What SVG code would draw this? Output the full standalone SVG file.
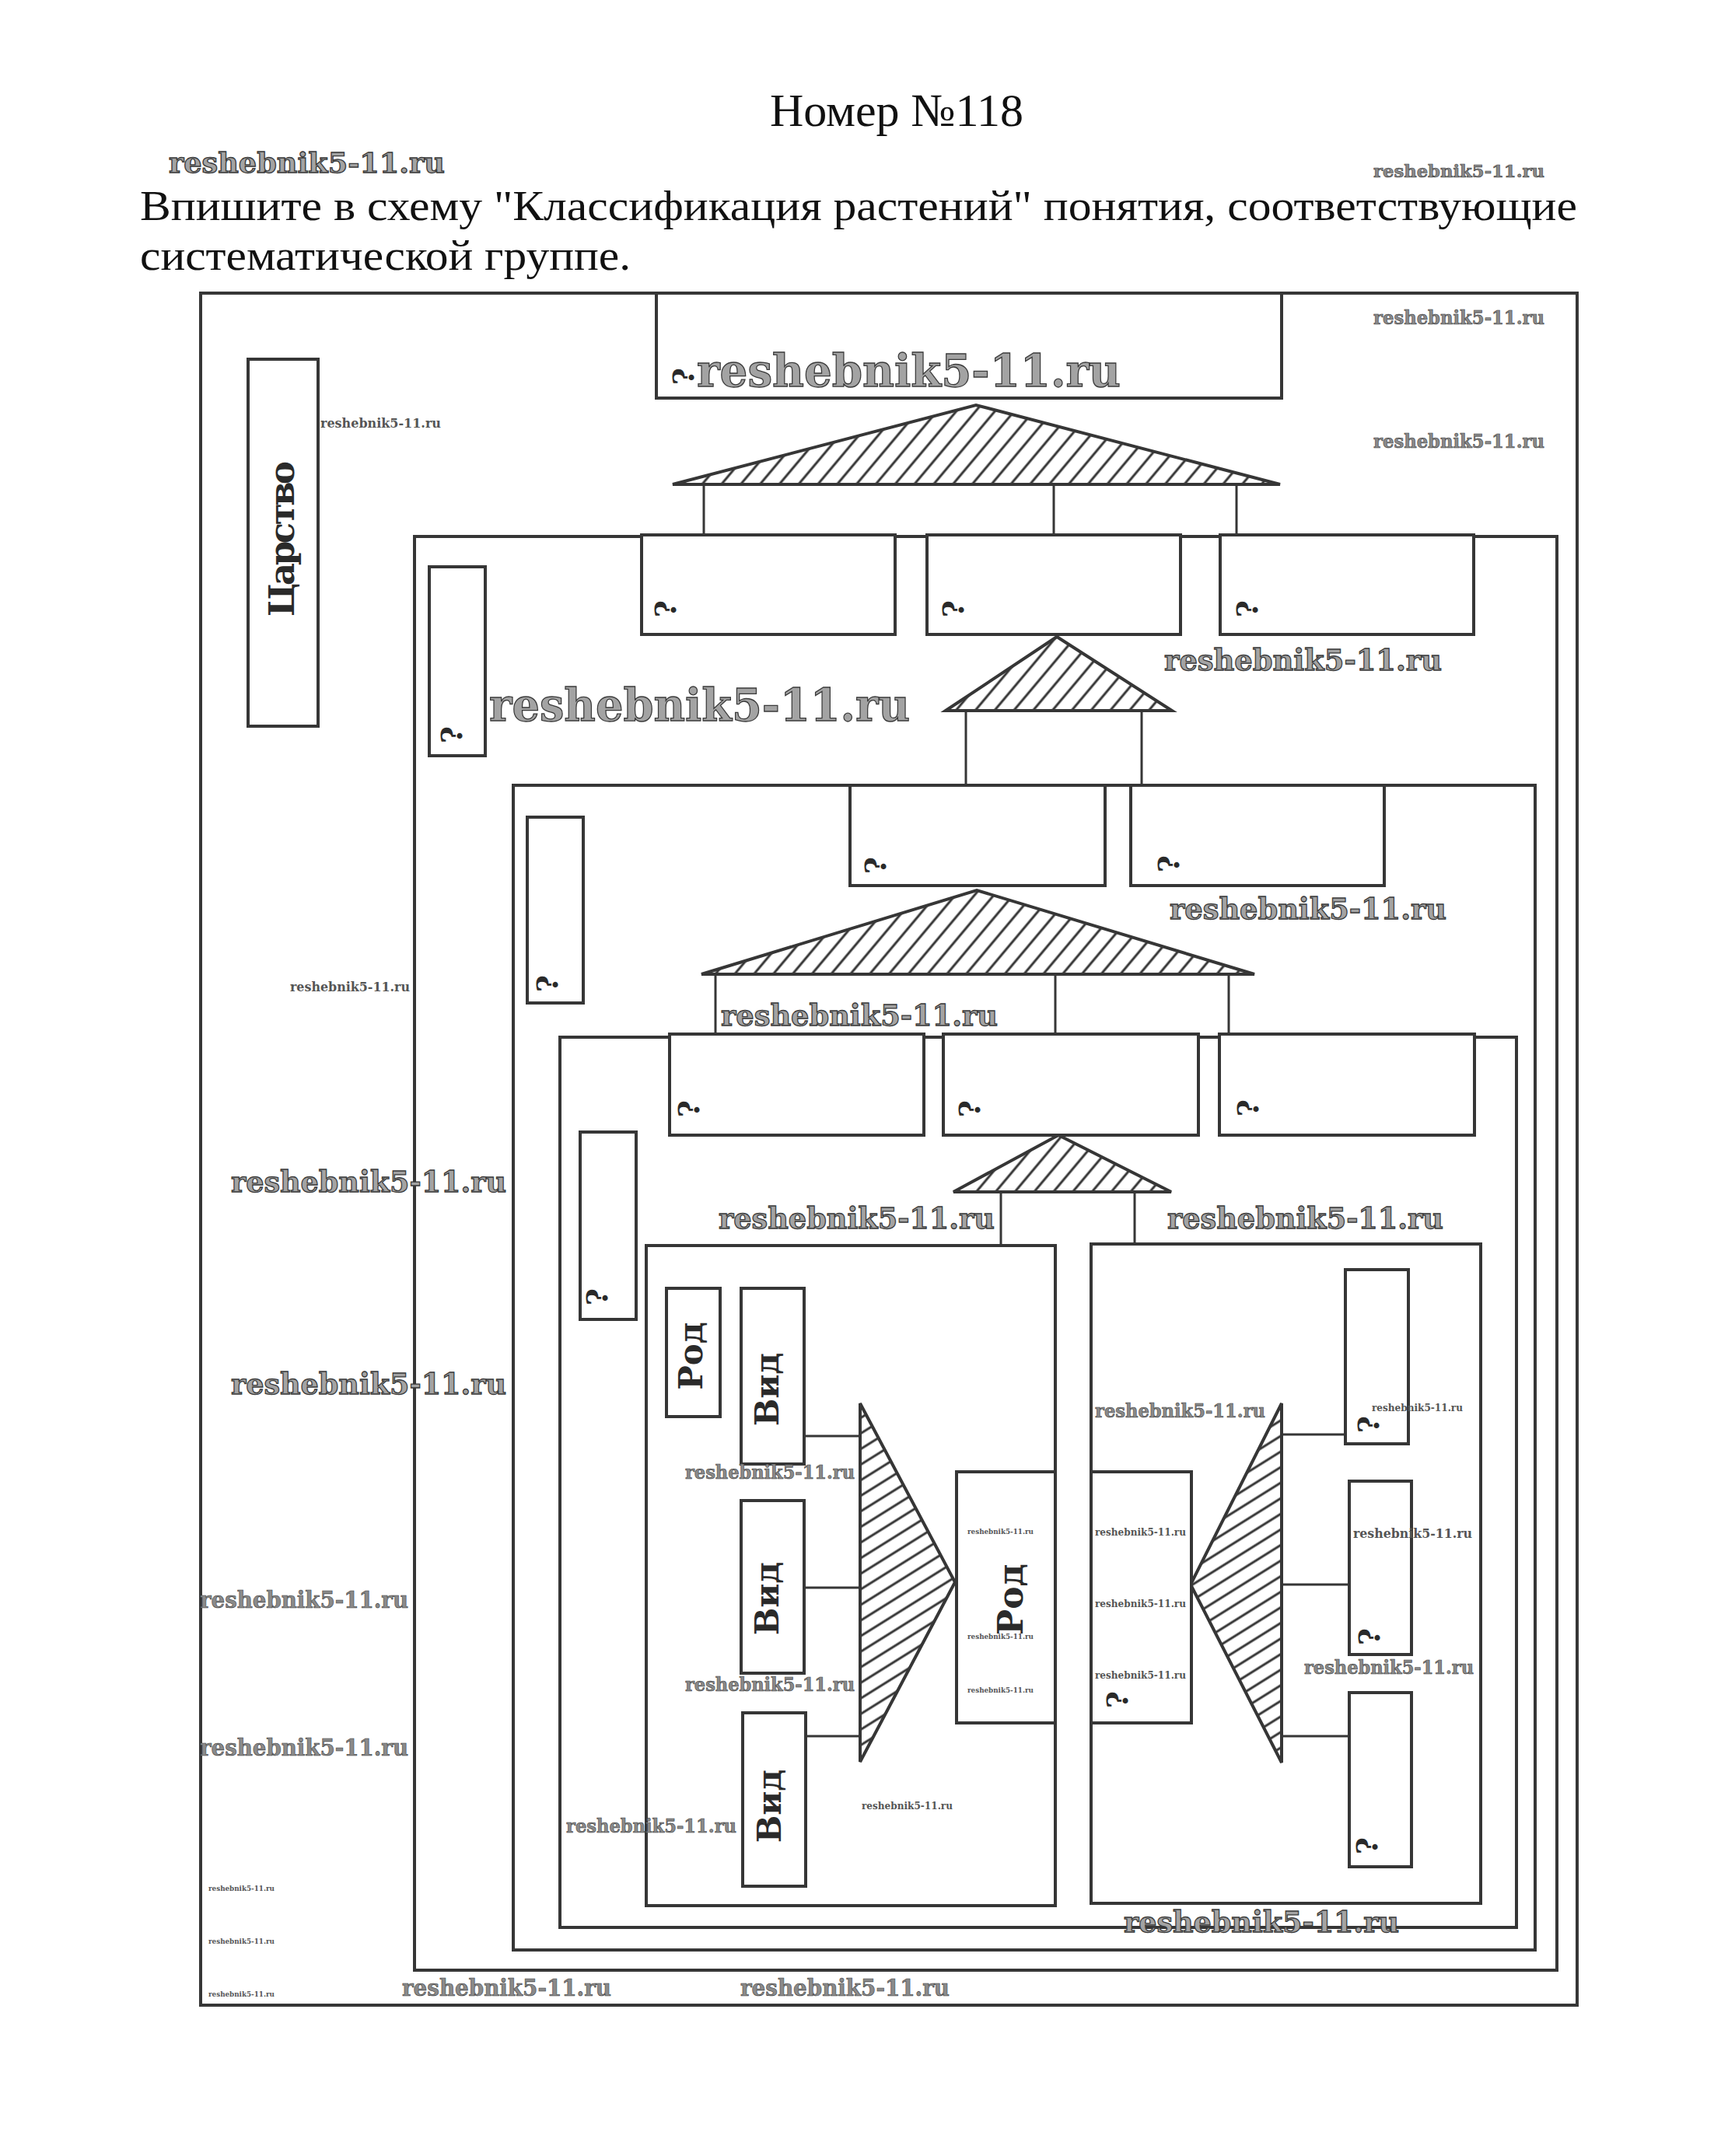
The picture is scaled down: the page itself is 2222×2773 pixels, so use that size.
<svg xmlns="http://www.w3.org/2000/svg" width="2222" height="2773" viewBox="0 0 2222 2773">
<defs>
<pattern id="hatchUp" patternUnits="userSpaceOnUse" width="19" height="19" patternTransform="rotate(40)"><line x1="9" y1="-2" x2="9" y2="21" stroke="#333" stroke-width="3"/></pattern>
<pattern id="hatchSide" patternUnits="userSpaceOnUse" width="17" height="17" patternTransform="rotate(58)"><line x1="8" y1="-2" x2="8" y2="19" stroke="#333" stroke-width="3"/></pattern>
<style>
.frame{fill:none;stroke:#363636;stroke-width:4}
.box{fill:#fff;stroke:#363636;stroke-width:4}
.con{stroke:#363636;stroke-width:3;fill:none}
.tri{stroke:#363636;stroke-width:4;stroke-linejoin:miter}
.up{fill:url(#hatchUp)}
.side{fill:url(#hatchSide)}
.lbl{font-family:"DejaVu Serif",serif;font-weight:bold;fill:#2a2a2a;text-anchor:middle;dominant-baseline:central}
.q{font-family:"DejaVu Serif",serif;font-weight:bold;font-size:38px;fill:#2a2a2a;text-anchor:middle;dominant-baseline:central}
.head{font-family:"Liberation Serif",serif;fill:#111}
.wmB{font-family:"DejaVu Serif",serif;font-weight:bold;fill:#a3a3a3;stroke:#3a3a3a;stroke-width:1.3}
.wmM{font-family:"DejaVu Serif",serif;font-weight:bold;fill:#8a8a8a;stroke:#3a3a3a;stroke-width:0.6}
.wmS{font-family:"DejaVu Serif",serif;font-weight:bold;fill:#555}
</style>
</defs>
<rect width="2222" height="2773" fill="#fff"/>

<g id="heading">
<text class="head" x="1153" y="162" font-size="60" text-anchor="middle" textLength="326">Номер №118</text>
<text class="head" x="180" y="283" font-size="55" textLength="1848" lengthAdjust="spacingAndGlyphs">Впишите в схему "Классификация растений" понятия, соответствующие</text>
<text class="head" x="180" y="347" font-size="55" textLength="631" lengthAdjust="spacingAndGlyphs">систематической группе.</text>
</g>

<g id="containers">
<rect id="frame-outer" class="frame" x="258" y="377" width="1770" height="2202"/>
<rect id="frame-b" class="frame" x="533" y="690" width="1469" height="1844"/>
<rect id="frame-c" class="frame" x="660" y="1010" width="1314" height="1498"/>
<rect id="frame-d" class="frame" x="720" y="1334" width="1230" height="1145"/>
<rect id="frame-e1" class="frame" x="831" y="1602" width="526" height="849"/>
<rect id="frame-e2" class="frame" x="1403" y="1600" width="501" height="848"/>
</g>

<g id="connectors">
<polygon class="tri up" points="865,623 1255,521 1646,623"/>
<line class="con" x1="905" y1="623" x2="905" y2="688"/>
<line class="con" x1="1355" y1="623" x2="1355" y2="688"/>
<line class="con" x1="1590" y1="623" x2="1590" y2="688"/>
<polygon class="tri up" points="1216,914 1359,819 1507,914"/>
<line class="con" x1="1242" y1="914" x2="1242" y2="1010"/>
<line class="con" x1="1468" y1="914" x2="1468" y2="1010"/>
<polygon class="tri up" points="902,1253 1256,1145 1613,1253"/>
<line class="con" x1="920" y1="1253" x2="920" y2="1330"/>
<line class="con" x1="1357" y1="1253" x2="1357" y2="1330"/>
<line class="con" x1="1580" y1="1253" x2="1580" y2="1330"/>
<polygon class="tri up" points="1226,1533 1361,1460 1506,1533"/>
<line class="con" x1="1287" y1="1533" x2="1287" y2="1601"/>
<line class="con" x1="1459" y1="1533" x2="1459" y2="1601"/>
<polygon class="tri side" points="1106,1805 1228,2035 1106,2266"/>
<line class="con" x1="1034" y1="1847" x2="1106" y2="1847"/>
<line class="con" x1="1034" y1="2042" x2="1106" y2="2042"/>
<line class="con" x1="1036" y1="2233" x2="1106" y2="2233"/>
<polygon class="tri side" points="1648,1805 1531,2038 1648,2267"/>
<line class="con" x1="1648" y1="1845" x2="1730" y2="1845"/>
<line class="con" x1="1648" y1="2038" x2="1735" y2="2038"/>
<line class="con" x1="1648" y1="2233" x2="1735" y2="2233"/>
</g>

<g id="node-top"><rect class="box" x="844" y="377" width="804" height="135"/><text class="q" transform="translate(878,484) rotate(-90)">?</text></g>
<g id="node-kingdom"><rect class="box" x="319" y="462" width="90" height="472"/><text class="lbl" font-size="45" textLength="200" transform="translate(362,693) rotate(-90)">Царство</text></g>

<g id="node-b-side"><rect class="box" x="552" y="729" width="72" height="243"/><text class="q" transform="translate(580,945) rotate(-90)">?</text></g>
<g id="node-l2-1"><rect class="box" x="825" y="688" width="326" height="128"/><text class="q" transform="translate(855,783) rotate(-90)">?</text></g>
<g id="node-l2-2"><rect class="box" x="1192" y="688" width="326" height="128"/><text class="q" transform="translate(1225,783) rotate(-90)">?</text></g>
<g id="node-l2-3"><rect class="box" x="1569" y="688" width="326" height="128"/><text class="q" transform="translate(1603,783) rotate(-90)">?</text></g>

<g id="node-c-side"><rect class="box" x="678" y="1051" width="72" height="239"/><text class="q" transform="translate(703,1265) rotate(-90)">?</text></g>
<g id="node-l3-1"><rect class="box" x="1093" y="1010" width="328" height="129"/><text class="q" transform="translate(1125,1113) rotate(-90)">?</text></g>
<g id="node-l3-2"><rect class="box" x="1454" y="1010" width="326" height="129"/><text class="q" transform="translate(1502,1111) rotate(-90)">?</text></g>

<g id="node-d-side"><rect class="box" x="746" y="1456" width="72" height="241"/><text class="q" transform="translate(767,1668) rotate(-90)">?</text></g>
<g id="node-l4-1"><rect class="box" x="861" y="1330" width="327" height="130"/><text class="q" transform="translate(885,1426) rotate(-90)">?</text></g>
<g id="node-l4-2"><rect class="box" x="1213" y="1330" width="328" height="130"/><text class="q" transform="translate(1246,1426) rotate(-90)">?</text></g>
<g id="node-l4-3"><rect class="box" x="1568" y="1330" width="328" height="130"/><text class="q" transform="translate(1604,1425) rotate(-90)">?</text></g>

<g id="node-rod-label"><rect class="box" x="857" y="1657" width="69" height="165"/><text class="lbl" font-size="42" transform="translate(888,1744) rotate(-90)">Род</text></g>
<g id="node-vid-1"><rect class="box" x="953" y="1657" width="81" height="226"/><text class="lbl" font-size="42" transform="translate(986,1787) rotate(-90)">Вид</text></g>
<g id="node-vid-2"><rect class="box" x="953" y="1930" width="81" height="222"/><text class="lbl" font-size="42" transform="translate(986,2056) rotate(-90)">Вид</text></g>
<g id="node-vid-3"><rect class="box" x="955" y="2203" width="81" height="223"/><text class="lbl" font-size="42" transform="translate(989,2323) rotate(-90)">Вид</text></g>
<g id="node-rod"><rect class="box" x="1230" y="1893" width="127" height="323"/><text class="lbl" font-size="44" transform="translate(1299,2057) rotate(-90)">Род</text></g>

<g id="node-e2-genus"><rect class="box" x="1403" y="1893" width="129" height="323"/><text class="q" transform="translate(1436,2186) rotate(-90)">?</text></g>
<g id="node-e2-sp1"><rect class="box" x="1730" y="1633" width="81" height="224"/><text class="q" transform="translate(1759,1832) rotate(-90)">?</text></g>
<g id="node-e2-sp2"><rect class="box" x="1735" y="1905" width="80" height="223"/><text class="q" transform="translate(1760,2105) rotate(-90)">?</text></g>
<g id="node-e2-sp3"><rect class="box" x="1735" y="2177" width="80" height="224"/><text class="q" transform="translate(1757,2374) rotate(-90)">?</text></g>

<g id="watermarks">
<text class="wmB" x="217" y="222" font-size="35" textLength="355" lengthAdjust="spacingAndGlyphs">reshebnik5-11.ru</text>
<text class="wmM" x="1766" y="228" font-size="22" textLength="220" lengthAdjust="spacingAndGlyphs">reshebnik5-11.ru</text>
<text class="wmB" x="896" y="497" font-size="58" textLength="545" lengthAdjust="spacingAndGlyphs">reshebnik5-11.ru</text>
<text class="wmM" x="1766" y="417" font-size="24" textLength="220" lengthAdjust="spacingAndGlyphs">reshebnik5-11.ru</text>
<text class="wmM" x="1766" y="576" font-size="24" textLength="220" lengthAdjust="spacingAndGlyphs">reshebnik5-11.ru</text>
<text class="wmS" x="412" y="550" font-size="16" textLength="155" lengthAdjust="spacingAndGlyphs">reshebnik5-11.ru</text>
<text class="wmB" x="629" y="927" font-size="58" textLength="541" lengthAdjust="spacingAndGlyphs">reshebnik5-11.ru</text>
<text class="wmB" x="1497" y="862" font-size="38" textLength="357" lengthAdjust="spacingAndGlyphs">reshebnik5-11.ru</text>
<text class="wmB" x="1504" y="1182" font-size="38" textLength="356" lengthAdjust="spacingAndGlyphs">reshebnik5-11.ru</text>
<text class="wmS" x="373" y="1275" font-size="16" textLength="154" lengthAdjust="spacingAndGlyphs">reshebnik5-11.ru</text>
<text class="wmB" x="927" y="1319" font-size="38" textLength="356" lengthAdjust="spacingAndGlyphs">reshebnik5-11.ru</text>
<text class="wmB" x="297" y="1533" font-size="38" textLength="354" lengthAdjust="spacingAndGlyphs">reshebnik5-11.ru</text>
<text class="wmB" x="924" y="1580" font-size="38" textLength="355" lengthAdjust="spacingAndGlyphs">reshebnik5-11.ru</text>
<text class="wmB" x="1501" y="1580" font-size="38" textLength="355" lengthAdjust="spacingAndGlyphs">reshebnik5-11.ru</text>
<text class="wmB" x="297" y="1793" font-size="38" textLength="354" lengthAdjust="spacingAndGlyphs">reshebnik5-11.ru</text>
<text class="wmM" x="1408" y="1823" font-size="24" textLength="219" lengthAdjust="spacingAndGlyphs">reshebnik5-11.ru</text>
<text class="wmS" x="1764" y="1815" font-size="13" textLength="117" lengthAdjust="spacingAndGlyphs">reshebnik5-11.ru</text>
<text class="wmM" x="881" y="1902" font-size="24" textLength="218" lengthAdjust="spacingAndGlyphs">reshebnik5-11.ru</text>
<text class="wmS" x="1244" y="1973" font-size="9" textLength="85" lengthAdjust="spacingAndGlyphs">reshebnik5-11.ru</text>
<text class="wmS" x="1408" y="1975" font-size="13" textLength="117" lengthAdjust="spacingAndGlyphs">reshebnik5-11.ru</text>
<text class="wmS" x="1740" y="1978" font-size="16" textLength="153" lengthAdjust="spacingAndGlyphs">reshebnik5-11.ru</text>
<text class="wmM" x="257" y="2068" font-size="29" textLength="268" lengthAdjust="spacingAndGlyphs">reshebnik5-11.ru</text>
<text class="wmS" x="1408" y="2067" font-size="13" textLength="117" lengthAdjust="spacingAndGlyphs">reshebnik5-11.ru</text>
<text class="wmS" x="1244" y="2108" font-size="9" textLength="85" lengthAdjust="spacingAndGlyphs">reshebnik5-11.ru</text>
<text class="wmM" x="1677" y="2153" font-size="24" textLength="218" lengthAdjust="spacingAndGlyphs">reshebnik5-11.ru</text>
<text class="wmS" x="1408" y="2159" font-size="13" textLength="117" lengthAdjust="spacingAndGlyphs">reshebnik5-11.ru</text>
<text class="wmM" x="881" y="2175" font-size="24" textLength="218" lengthAdjust="spacingAndGlyphs">reshebnik5-11.ru</text>
<text class="wmS" x="1244" y="2177" font-size="9" textLength="85" lengthAdjust="spacingAndGlyphs">reshebnik5-11.ru</text>
<text class="wmM" x="257" y="2258" font-size="29" textLength="268" lengthAdjust="spacingAndGlyphs">reshebnik5-11.ru</text>
<text class="wmS" x="1108" y="2327" font-size="13" textLength="117" lengthAdjust="spacingAndGlyphs">reshebnik5-11.ru</text>
<text class="wmM" x="728" y="2357" font-size="24" textLength="219" lengthAdjust="spacingAndGlyphs">reshebnik5-11.ru</text>
<text class="wmS" x="268" y="2432" font-size="9" textLength="85" lengthAdjust="spacingAndGlyphs">reshebnik5-11.ru</text>
<text class="wmS" x="268" y="2500" font-size="9" textLength="85" lengthAdjust="spacingAndGlyphs">reshebnik5-11.ru</text>
<text class="wmS" x="268" y="2568" font-size="9" textLength="85" lengthAdjust="spacingAndGlyphs">reshebnik5-11.ru</text>
<text class="wmB" x="1445" y="2485" font-size="38" textLength="354" lengthAdjust="spacingAndGlyphs">reshebnik5-11.ru</text>
<text class="wmM" x="517" y="2567" font-size="29" textLength="269" lengthAdjust="spacingAndGlyphs">reshebnik5-11.ru</text>
<text class="wmM" x="952" y="2567" font-size="29" textLength="269" lengthAdjust="spacingAndGlyphs">reshebnik5-11.ru</text>
</g>
</svg>
